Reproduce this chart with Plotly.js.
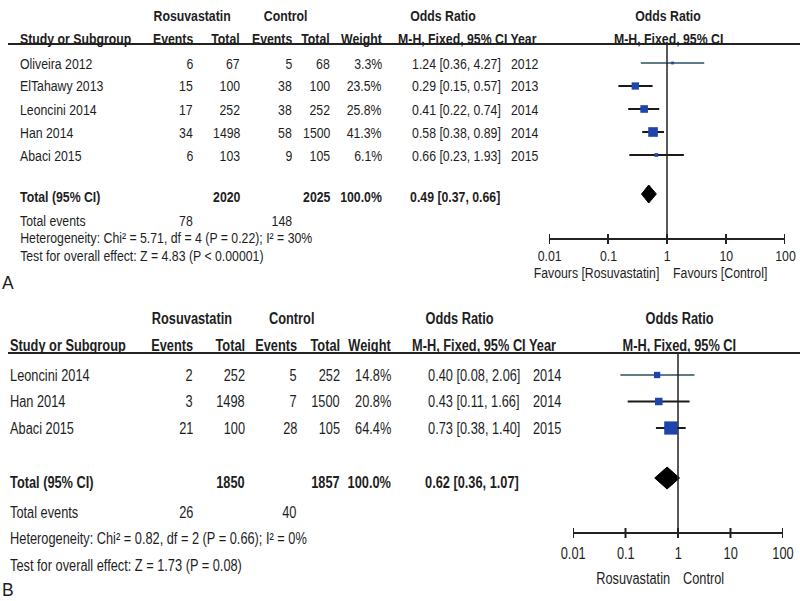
<!DOCTYPE html>
<html>
<head>
<meta charset="utf-8">
<script src="https://cdn.plot.ly/plotly-3.0.1.min.js"></script>
<style>html,body{margin:0;padding:0;background:#fff;}#chart{width:800px;height:601px;}</style>
</head>
<body>
<div id="chart"></div>
<script>
// ---------- DATA: Panel A ----------
const studiesA = ["Oliveira 2012", "ElTahawy 2013", "Leoncini 2014", "Han 2014", "Abaci 2015"];
const eventsRosuA = [6, 15, 17, 34, 6];
const totalRosuA = [67, 100, 252, 1498, 103];
const eventsCtrlA = [5, 38, 38, 58, 9];
const totalCtrlA = [68, 100, 252, 1500, 105];
const weightA = [3.3, 23.5, 25.8, 41.3, 6.1];
const orA = [1.24, 0.29, 0.41, 0.58, 0.66];
const ciLowA = [0.36, 0.15, 0.22, 0.38, 0.23];
const ciHighA = [4.27, 0.57, 0.74, 0.89, 1.93];
const yearA = [2012, 2013, 2014, 2014, 2015];
const pooledA = [0.49, 0.37, 0.66];           // OR, low, high
const sumTotalsA = [2020, 2025];               // Rosuvastatin, Control
const sumEventsA = [78, 148];
const hetA = "Heterogeneity: Chi² = 5.71, df = 4 (P = 0.22); I² = 30%";
const testA = "Test for overall effect: Z = 4.83 (P < 0.00001)";
const favoursA = ["Favours [Rosuvastatin]", "Favours [Control]"];

// ---------- DATA: Panel B ----------
const studiesB = ["Leoncini 2014", "Han 2014", "Abaci 2015"];
const eventsRosuB = [2, 3, 21];
const totalRosuB = [252, 1498, 100];
const eventsCtrlB = [5, 7, 28];
const totalCtrlB = [252, 1500, 105];
const weightB = [14.8, 20.8, 64.4];
const orB = [0.40, 0.43, 0.73];
const ciLowB = [0.08, 0.11, 0.38];
const ciHighB = [2.06, 1.66, 1.40];
const yearB = [2014, 2014, 2015];
const pooledB = [0.62, 0.36, 1.07];
const sumTotalsB = [1850, 1857];
const sumEventsB = [26, 40];
const hetB = "Heterogeneity: Chi² = 0.82, df = 2 (P = 0.66); I² = 0%";
const testB = "Test for overall effect: Z = 1.73 (P = 0.08)";
const favoursB = ["Rosuvastatin", "Control"];

// ---------- axis ticks ----------
const tickVals = [0.01, 0.1, 1, 10, 100];
const tickText = ["0.01", "0.1", "1", "10", "100"];

// ---------- LAYOUT / STYLE ----------
const W = 800, H = 601;
const FONT = "'Liberation Sans', Arial, sans-serif";
const TXT = "#1e1e1e";
const BLUE = "#1d45ad";
const NARROW = 0.82;   // horizontal condensing of text (Arial-Narrow look)
const ciColorsA = ["#5f7c86", "#1a1a1a", "#1a1a1a", "#1a1a1a", "#1a1a1a"];
const ciColorsB = ["#5f7c86", "#1a1a1a", "#1a1a1a"];

const panels = [
  {
    xa: "x", xkey: "xaxis", domain: [549, 785], fs: 15, sq: 1.5,
    hdr1Y: 16, hdr2Y: 39, lineY: 44, rowTop: 63, rowStep: 23, totalY: 197, diaY: 194, evY: 220, hetY: 237, testY: 255, labelY: 283,
    axisY: 239, tickLabY: 255, favY: 272, letter: "A",
    cols: {name: 20, ev: 193, tot: 240, cev: 292, ctot: 330, wt: 382, orL: 412, yr: 511, orTot: 410, hdrOR: 398},
    hdrCenters: {rosu: 192, ctrl: 285, or: 443, plot: 668},
    favX: [659, 673],
    studies: studiesA, ev: eventsRosuA, tot: totalRosuA, cev: eventsCtrlA, ctot: totalCtrlA, wt: weightA,
    or: orA, lo: ciLowA, hi: ciHighA, yr: yearA, pooled: pooledA, sumTot: sumTotalsA, sumEv: sumEventsA,
    het: hetA, test: testA, fav: favoursA, ciColors: ciColorsA, diamondH: 9
  },
  {
    xa: "x2", xkey: "xaxis2", domain: [573, 783], fs: 15.6, sq: 1.65,
    hdr1Y: 318, hdr2Y: 345, lineY: 353, rowTop: 375, rowStep: 26.5, totalY: 483, diaY: 478, evY: 512, hetY: 538, testY: 565, labelY: 590,
    axisY: 533, tickLabY: 553, favY: 578, letter: "B",
    cols: {name: 10, ev: 193, tot: 245, cev: 297, ctot: 340, wt: 391, orL: 428, yr: 533, orTot: 425, hdrOR: 412},
    hdrCenters: {rosu: 192, ctrl: 291, or: 460, plot: 679},
    favX: [670, 683],
    studies: studiesB, ev: eventsRosuB, tot: totalRosuB, cev: eventsCtrlB, ctot: totalCtrlB, wt: weightB,
    or: orB, lo: ciLowB, hi: ciHighB, yr: yearB, pooled: pooledB, sumTot: sumTotalsB, sumEv: sumEventsB,
    het: hetB, test: testB, fav: favoursB, ciColors: ciColorsB, diamondH: 11
  }
];

const px = x => x / W;
const py = y => 1 - y / H;
const fmt = v => v.toFixed(2);

const annotations = [];
const annScale = [];
const shapes = [];
const traces = [];

function ann(text, x, y, xanchor, size, bold, sx, xref) {
  annotations.push({
    text: bold ? "<b>" + text + "</b>" : text,
    x: xref ? x : px(x), y: py(y), xref: xref || "paper", yref: "paper",
    xanchor: xanchor, yanchor: "middle", showarrow: false, borderpad: 0, borderwidth: 0,
    font: {family: FONT, size: size, color: TXT}
  });
  annScale.push(sx === undefined ? NARROW : sx);
}

const layout = {
  width: W, height: H,
  margin: {l: 0, r: 0, t: 0, b: 0},
  paper_bgcolor: "#fff", plot_bgcolor: "rgba(0,0,0,0)",
  showlegend: false, hovermode: false,
  yaxis: {range: [H, 0], domain: [0, 1], visible: false, fixedrange: true},
  annotations: annotations, shapes: shapes
};

panels.forEach(p => {
  const c = p.cols, fs = p.fs;
  // headers
  ann("Rosuvastatin", p.hdrCenters.rosu, p.hdr1Y, "center", fs, true);
  ann("Control", p.hdrCenters.ctrl, p.hdr1Y, "center", fs, true);
  ann("Odds Ratio", p.hdrCenters.or, p.hdr1Y, "center", fs, true);
  ann("Odds Ratio", p.hdrCenters.plot, p.hdr1Y, "center", fs, true);
  ann("Study or Subgroup", c.name, p.hdr2Y, "left", fs, true);
  ann("Events", c.ev, p.hdr2Y, "right", fs, true);
  ann("Total", c.tot, p.hdr2Y, "right", fs, true);
  ann("Events", c.cev, p.hdr2Y, "right", fs, true);
  ann("Total", c.ctot, p.hdr2Y, "right", fs, true);
  ann("Weight", c.wt, p.hdr2Y, "right", fs, true);
  ann("M-H, Fixed, 95% CI Year", c.hdrOR, p.hdr2Y, "left", fs, true);
  ann("M-H, Fixed, 95% CI", p.hdrCenters.plot, p.hdr2Y, "center", fs, true);
  // header rule
  shapes.push({type: "line", xref: "paper", yref: "paper", x0: px(8), x1: px(800), y0: py(p.lineY), y1: py(p.lineY),
    line: {color: "#222", width: 2}});

  // study rows
  const rowY = p.studies.map((_, i) => p.rowTop + i * p.rowStep);
  p.studies.forEach((s, i) => {
    const y = rowY[i];
    ann(s, c.name, y, "left", fs);
    ann(String(p.ev[i]), c.ev, y, "right", fs);
    ann(String(p.tot[i]), c.tot, y, "right", fs);
    ann(String(p.cev[i]), c.cev, y, "right", fs);
    ann(String(p.ctot[i]), c.ctot, y, "right", fs);
    ann(p.wt[i].toFixed(1) + "%", c.wt, y, "right", fs);
    ann(fmt(p.or[i]) + " [" + fmt(p.lo[i]) + ", " + fmt(p.hi[i]) + "]", c.orL, y, "left", fs);
    ann(String(p.yr[i]), c.yr, y, "left", fs);
    // CI line
    traces.push({type: "scatter", mode: "lines", xaxis: p.xa, yaxis: "y",
      x: [p.lo[i], p.hi[i]], y: [y, y], line: {color: p.ciColors[i], width: 2}, hoverinfo: "skip"});
  });
  // squares
  traces.push({type: "scatter", mode: "markers", xaxis: p.xa, yaxis: "y",
    x: p.or, y: rowY,
    marker: {symbol: "square", color: BLUE, opacity: 1, size: p.wt.map(w => p.sq * Math.sqrt(w)), line: {width: 0}},
    hoverinfo: "skip"});

  // totals
  ann("Total (95% CI)", c.name, p.totalY, "left", fs, true);
  ann(String(p.sumTot[0]), c.tot, p.totalY, "right", fs, true);
  ann(String(p.sumTot[1]), c.ctot, p.totalY, "right", fs, true);
  ann("100.0%", c.wt, p.totalY, "right", fs, true);
  ann(fmt(p.pooled[0]) + " [" + fmt(p.pooled[1]) + ", " + fmt(p.pooled[2]) + "]", c.orTot, p.totalY, "left", fs, true);
  ann("Total events", c.name, p.evY, "left", fs);
  ann(String(p.sumEv[0]), c.ev, p.evY, "right", fs);
  ann(String(p.sumEv[1]), c.cev, p.evY, "right", fs);
  ann(p.het, c.name, p.hetY, "left", fs);
  ann(p.test, c.name, p.testY, "left", fs);
  ann(p.letter, 2, p.labelY, "left", 17.5, false, 1);
  // favours
  ann(p.fav[0], p.favX[0], p.favY, "right", fs);
  ann(p.fav[1], p.favX[1], p.favY, "left", fs);

  // tick labels placed through the log axis (annotation x uses log10 on log axes)
  tickVals.forEach((t, k) => ann(tickText[k], Math.log10(t), p.tickLabY, "center", fs, false, NARROW, p.xa));

  // diamond
  const [o, l, h] = p.pooled;
  traces.push({type: "scatter", mode: "lines", xaxis: p.xa, yaxis: "y", fill: "toself", fillcolor: "#000",
    x: [l, o, h, o, l], y: [p.diaY, p.diaY - p.diamondH, p.diaY, p.diaY + p.diamondH, p.diaY],
    line: {color: "#000", width: 1}, hoverinfo: "skip"});

  // line of no effect
  traces.push({type: "scatter", mode: "lines", xaxis: p.xa, yaxis: "y",
    x: [1, 1], y: [p.lineY, p.axisY], line: {color: "#222", width: 1.5}, hoverinfo: "skip"});

  // tick marks crossing the axis line
  const tx = [], ty = [];
  tickVals.forEach(t => { tx.push(t, t, null); ty.push(p.axisY - 5, p.axisY + 5, null); });
  traces.push({type: "scatter", mode: "lines", xaxis: p.xa, yaxis: "y", x: tx, y: ty,
    line: {color: "#222", width: 2}, hoverinfo: "skip"});

  layout[p.xkey] = {
    type: "log", range: [-2, 2], domain: [px(p.domain[0]), px(p.domain[1])],
    anchor: "free", position: py(p.axisY), fixedrange: true,
    showgrid: false, zeroline: false, showline: true, linecolor: "#222", linewidth: 2,
    ticks: "", showticklabels: false
  };
});

Plotly.newPlot("chart", traces, layout, {staticPlot: true, displayModeBar: false}).then(gd => {
  gd.querySelectorAll("g.annotation").forEach(g => {
    const i = +g.getAttribute("data-index");
    const sx = annScale[i];
    if (!(sx < 1)) return;
    const t = g.querySelector("text.annotation-text");
    if (!t) return;
    const a = annotations[i].xanchor;
    t.style.transformBox = "fill-box";
    t.style.transformOrigin = a === "left" ? "0% 50%" : a === "right" ? "100% 50%" : "50% 50%";
    t.style.transform = "scaleX(" + sx + ")";
  });
});
</script>
</body>
</html>
